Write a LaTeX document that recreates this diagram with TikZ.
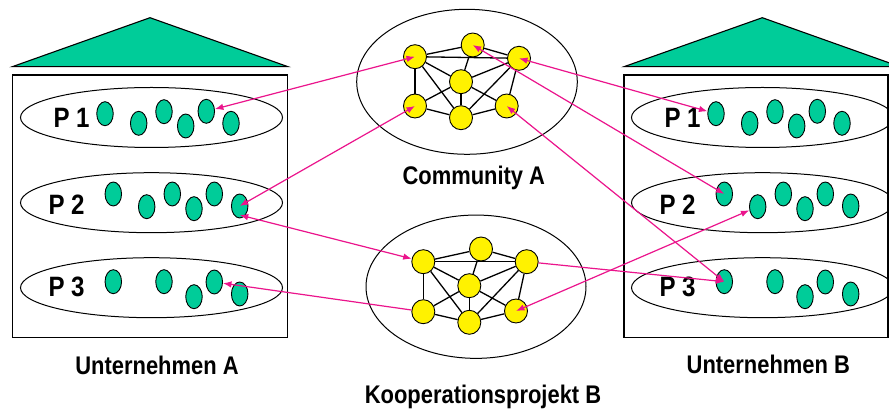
\documentclass[tikz,border=0pt]{standalone}
\usepackage{fontspec}
\setmainfont{Liberation Sans}[FakeStretch=0.86]
\usetikzlibrary{shapes.geometric,arrows.meta}
\definecolor{tealg}{RGB}{0,204,153}
\definecolor{pinkarr}{RGB}{235,20,140}
\begin{document}
\begin{tikzpicture}[x=1pt,y=-1pt,
  roof/.style={fill=tealg,draw=black,line width=1.1pt,line join=miter},
  house/.style={draw=black,line width=1.3pt},
  proj/.style={ellipse,draw,line width=1pt,minimum width=262pt,minimum height=60pt,inner sep=0pt},
  dot/.style={ellipse,draw,fill=tealg,line width=0.9pt,minimum width=16.5pt,minimum height=24pt,inner sep=0pt},
  ynode/.style={ellipse,draw,fill=yellow,line width=0.9pt,minimum width=23pt,minimum height=24pt,inner sep=0pt},
  grp/.style={ellipse,draw,line width=1pt,inner sep=0pt},
  gedge/.style={line width=1.3pt},
  arr/.style={draw=pinkarr,line width=1.2pt},
  both/.style={arr,{Latex[length=8.5pt,width=6.5pt]}-{Latex[length=8.5pt,width=6.5pt]}},
  one/.style={arr,-{Latex[length=8.5pt,width=6.5pt]}},
  lab/.style={font=\fontsize{25.5}{28}\selectfont\bfseries,inner sep=0pt,anchor=base},
  plab/.style={font=\fontsize{28}{30}\selectfont\bfseries,inner sep=0pt,anchor=base west}]
\useasboundingbox (0,0) rectangle (889,411);
\clip (0,0) rectangle (889,411);
\fill[white] (0,0) rectangle (889,411);

% houses
\draw[roof] (12.3,66.7) -- (150,17.7) -- (288,66.7) -- cycle;
\draw[house] (12.3,75) rectangle (287.7,337.7);
\draw[roof] (624,66.7) -- (762.3,17.7) -- (900,66.7) -- cycle;
\draw[house] (624,75) rectangle (888,337.7);

% project ellipses
\foreach \dx/\h in {0/a,611/b} {
  \node[proj] (p\h1) at (151.5+\dx,117.5) {};
  \node[proj] (p\h2) at (151.5+\dx,202.7) {};
  \node[proj] (p\h3) at (151.5+\dx,287.7) {};
  \node[plab] (l\h1) at (53.3+\dx,128) {P 1};
  \node[plab] (l\h2) at (48.3+\dx,215) {P 2};
  \node[plab] (l\h3) at (48.3+\dx,297) {P 3};
  \foreach \x/\y [count=\i] in {105/113.7,138.7/123.3,164/111.7,185.7/126,206.3/111.3,231/123.3}
    \node[dot] (\h1-\i) at (\x+\dx,\y) {};
  \foreach \x/\y [count=\i] in {113.3/194,146.7/206.7,172.3/194,194/208.7,214.3/194,239.7/206}
    \node[dot] (\h2-\i) at (\x+\dx,\y) {};
  \foreach \x/\y [count=\i] in {113.3/281.7,164/281.7,194/296.7,214.3/282,239.7/294}
    \node[dot] (\h3-\i) at (\x+\dx,\y) {};
}

% Community A
\node[grp,minimum width=220.6pt,minimum height=145pt] (ca) at (467,81.8) {};
\node[ynode] (ca-tl) at (415,56.7) {};
\node[ynode] (ca-t) at (472.7,45) {};
\node[ynode] (ca-tr) at (519,58.3) {};
\node[ynode] (ca-c) at (461,81.7) {};
\node[ynode] (ca-bl) at (415,106) {};
\node[ynode] (ca-b) at (461,117.7) {};
\node[ynode] (ca-br) at (506.7,106) {};

% Kooperationsprojekt B
\node[grp,minimum width=220pt,minimum height=143.3pt] (kb) at (476,286.7) {};
\node[ynode] (kb-tl) at (423.3,261.7) {};
\node[ynode] (kb-t) at (481,249) {};
\node[ynode] (kb-tr) at (526.7,261.7) {};
\node[ynode] (kb-c) at (469.3,285.7) {};
\node[ynode] (kb-bl) at (423.3,311.7) {};
\node[ynode] (kb-b) at (469.3,322.3) {};
\node[ynode] (kb-br) at (516,311) {};

\foreach \g in {ca,kb} {
  \foreach \u/\v in {tl/t,t/tr,tl/tr,tl/bl,tl/b,tl/c,c/br,t/c,tr/c,tr/b,tr/br,bl/c,bl/b,b/br,c/b}
    \draw[gedge] (\g-\u) -- (\g-\v);
}

% labels
\node[lab] (lca) at (473.8,185) {Community A};
\node[lab] (lua) at (157,375) {Unternehmen A};
\node[lab] (lub) at (768.3,374) {Unternehmen B};
\node[lab] (lkb) at (483,403) {Kooperationsprojekt B};

% connectors
\draw[both] (ca-tl.center) -- (a1-5);
\draw[both] (ca-bl.center) -- (a2-6.center);
\draw[both] (kb-tl) -- ([yshift=-9pt]a2-6.center);
\draw[one] (kb-bl) -- (a3-4);
\draw[both] (ca-tr.center) -- (b1-1);
\draw[both] (ca-t.center) -- (b2-1.center);
\draw[both] (ca-br.center) -- (b3-1.center);
\draw[one] (kb-tr) -- (b3-1.center);
\draw[both] (kb-br.center) -- (b2-2);
\end{tikzpicture}
\end{document}
